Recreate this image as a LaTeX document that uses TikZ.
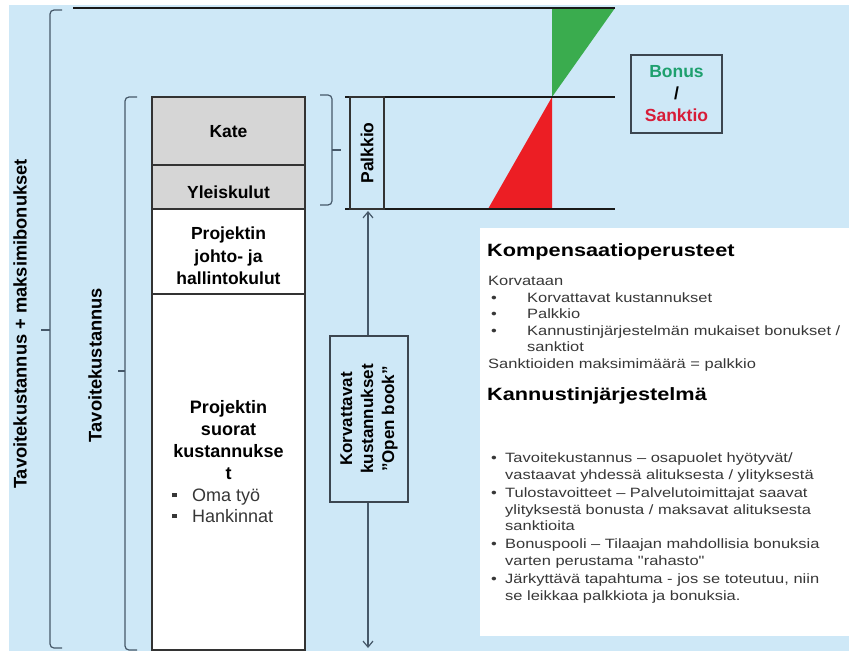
\documentclass[tikz,border=0pt]{standalone}
\usepackage{fontspec}
\setmainfont{Liberation Sans}
\newfontfamily\boxfont[FakeStretch=1.22]{Liberation Sans}
\usetikzlibrary{arrows.meta}

\definecolor{bgblue}{RGB}{206,232,247}
\definecolor{katefill}{RGB}{214,214,214}
\definecolor{lineblue}{RGB}{70,88,105}
\definecolor{boxedge}{RGB}{60,70,80}
\definecolor{trigreen}{RGB}{58,172,78}
\definecolor{trired}{RGB}{236,30,36}
\definecolor{bonusgreen}{RGB}{30,160,110}
\definecolor{sankred}{RGB}{215,28,56}
\definecolor{bodytext}{RGB}{55,55,55}

\begin{document}
\begin{tikzpicture}[x=1pt, y=-1pt,
    blk/.style={draw=black!80, line width=1.2pt, minimum width=153pt, inner sep=0pt},
    blktxt/.style={align=center, inner sep=0pt, font=\bfseries\fontsize{17.5}{22.5}\selectfont},
    brk/.style={draw=lineblue, line width=1.2pt, rounded corners=4pt},
    lbl/.style={font=\bfseries\fontsize{18.3}{21}\selectfont, inner sep=0pt},
    hline/.style={line width=2.6pt, black!90},
    head/.style={anchor=west, inner sep=0pt,
        font=\boxfont\bfseries\fontsize{17.8}{20}\selectfont},
    body/.style={anchor=north west, align=left, inner sep=0pt, text=bodytext}]
    \useasboundingbox (0,0) rectangle (849,655);

    % tausta ja tekstilaatikko
    \fill[bgblue] (9,5) rectangle (849,651);
    \fill[white] (480,228) rectangle (849,636);

    % bonus / sanktio -kolmiot
    \fill[trigreen] (552,8) -- (615,8) -- (552,97) -- cycle;
    \fill[trired] (552,97) -- (552,209) -- (488,209) -- cycle;

    % vaakaviivat
    \draw[hline] (73,8) -- (615,8);
    \draw[hline] (345,97) -- (615,97);
    \draw[hline] (345,209) -- (615,209);

    % sulkeet
    \draw[brk] (62,10) -- (50,10) -- (50,648) -- (62,648);
    \draw[brk] (50,330) -- (41,330);
    \draw[brk] (137,97) -- (125,97) -- (125,650) -- (137,650);
    \draw[brk] (125,371) -- (118,371);
    \draw[brk] (320,95) -- (332,95) -- (332,205) -- (320,205);
    \draw[brk] (332,150) -- (341,150);
    \node[lbl, rotate=90] (outerLbl) at (20,324) {Tavoitekustannus + maksimibonukset};
    \node[lbl, rotate=90] (innerLbl) at (95,365) {Tavoitekustannus};

    % kustannuspylvas
    \node[blk, fill=katefill, minimum height=68pt] (kate) at (228.5,131) {};
    \node[blk, fill=katefill, minimum height=44pt] (yleis) at (228.5,187) {};
    \node[blk, fill=white, minimum height=85pt] (johto) at (228.5,251.5) {};
    \node[blk, fill=white, minimum height=356pt] (suorat) at (228.5,472) {};
    \node[blktxt] (kateTxt) at (228.5,132) {Kate};
    \node[blktxt] (yleisTxt) at (228.5,192) {Yleiskulut};
    \node[blktxt] (johtoTxt) at (228.5,256) {Projektin\\johto- ja\\hallintokulut};
    \node[blktxt, font=\bfseries\fontsize{18}{22}\selectfont]
        (suoratTxt) at (228.5,440) {Projektin\\suorat\\kustannukse\\t};
    \node[anchor=west, align=left, inner sep=0pt, text=bodytext,
        font=\fontsize{18}{21}\selectfont] (suoratList) at (172,505.5)
        {\makebox[20pt][l]{\rule[4pt]{4.5pt}{4.5pt}}Oma työ\\
         \makebox[20pt][l]{\rule[4pt]{4.5pt}{4.5pt}}Hankinnat};

    % palkkio ja avoin kirja
    \node[draw=black!80, line width=1.2pt, rotate=90, minimum width=112pt,
        minimum height=34pt, inner sep=0pt, font=\bfseries\fontsize{17.5}{21}\selectfont]
        (palkkio) at (367,153) {Palkkio};
    \coordinate (arrTop) at (368,211);
    \coordinate (arrBot) at (368,648);
    \draw[{Straight Barb[length=6pt,width=10pt]}-{Straight Barb[length=6pt,width=10pt]},
        draw=lineblue, line width=1.2pt] (arrTop) -- (arrBot);
    \node[draw=boxedge, fill=bgblue, line width=1.2pt, rotate=90, minimum width=166pt,
        minimum height=78pt, inner sep=0pt, align=center,
        font=\bfseries\fontsize{17}{21}\selectfont]
        (openBook) at (369,419) {Korvattavat\\kustannukset\\\symbol{34}Open book\symbol{34}};

    \node[draw=boxedge, line width=1.2pt, minimum width=91pt, minimum height=78pt,
        inner sep=0pt, align=center, font=\bfseries\fontsize{17.5}{22}\selectfont]
        (bonusBox) at (676.5,94)
        {\textcolor{bonusgreen}{Bonus}\\/\\\textcolor{sankred}{Sanktio}};

    % kompensaatioperusteet
    \node[head] (kompHead) at (487,252) {Kompensaatioperusteet};
    \node[body, font=\boxfont\fontsize{13.5}{16.6}\selectfont] (korvList) at (488,276)
        {Korvataan\\
         \makebox[39pt][l]{\hspace{3pt}•}Korvattavat kustannukset\\
         \makebox[39pt][l]{\hspace{3pt}•}Palkkio\\
         \makebox[39pt][l]{\hspace{3pt}•}Kannustinjärjestelmän mukaiset bonukset /\\
         \hspace*{39pt}sanktiot\\
         Sanktioiden maksimimäärä = palkkio};

    % kannustinjarjestelma
    \node[head] (kannHead) at (487,396) {Kannustinjärjestelmä};
    \node[body, font=\boxfont\fontsize{13.5}{16.2}\selectfont] (kannList) at (491,453)
        {\makebox[14pt][l]{•}Tavoitekustannus – osapuolet hyötyvät/\\
         \hspace*{14pt}vastaavat yhdessä alituksesta / ylityksestä\\[2.5pt]
         \makebox[14pt][l]{•}Tulostavoitteet – Palvelutoimittajat saavat\\
         \hspace*{14pt}ylityksestä bonusta / maksavat alituksesta\\
         \hspace*{14pt}sanktioita\\[2.5pt]
         \makebox[14pt][l]{•}Bonuspooli – Tilaajan mahdollisia bonuksia\\
         \hspace*{14pt}varten perustama "rahasto"\\[2.5pt]
         \makebox[14pt][l]{•}Järkyttävä tapahtuma - jos se toteutuu, niin\\
         \hspace*{14pt}se leikkaa palkkiota ja bonuksia.};
\end{tikzpicture}
\end{document}
